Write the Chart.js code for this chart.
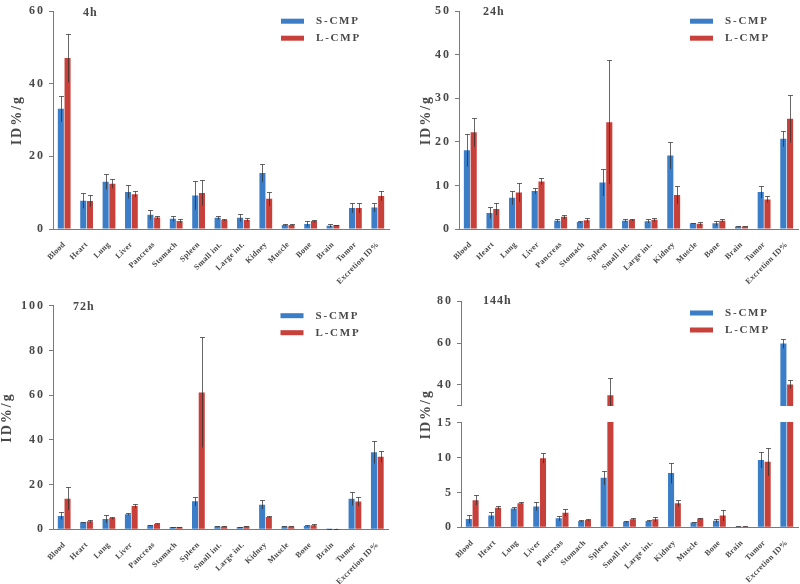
<!DOCTYPE html>
<html>
<head>
<meta charset="utf-8">
<title>Biodistribution of S-CMP and L-CMP</title>
<script src="https://cdn.jsdelivr.net/npm/chart.js@4.4.1/dist/chart.umd.min.js"></script>
<style>
  html, body { margin: 0; padding: 0; background: #fff; }
  #wrap { position: relative; width: 800px; height: 584px; overflow: hidden; }
  #wrap canvas { position: absolute; }
</style>
</head>
<body>
<div id="wrap">
  <canvas id="p4h" width="400" height="290" style="left:0;top:0"></canvas>
  <canvas id="p24h" width="400" height="290" style="left:400px;top:0"></canvas>
  <canvas id="p72h" width="400" height="294" style="left:0;top:290px"></canvas>
  <canvas id="p144h" width="400" height="294" style="left:400px;top:290px"></canvas>
</div>
<script>
const organs = ['Blood', 'Heart', 'Lung', 'Liver', 'Pancreas', 'Stomach', 'Spleen', 'Small int.',
  'Large int.', 'Kidney', 'Muscle', 'Bone', 'Brain', 'Tumor', 'Excretion ID%'];
const seriesNames = ['S-CMP', 'L-CMP'];
const timePoints = ['4h', '24h', '72h', '144h'];

// mean ID%/g and SD (error bar) per organ
const s4h     = [33.1, 7.8, 13.0, 10.2, 3.9, 2.8, 9.2, 3.1, 3.1, 15.4, 1.1, 1.4, 0.9, 5.8, 5.9];
const s4hErr  = [3.6, 2.1, 2.1, 1.8, 1.3, 0.7, 3.9, 0.5, 1.1, 2.5, 0.2, 0.7, 0.4, 1.3, 1.2];
const l4h     = [47.1, 7.7, 12.5, 9.6, 3.2, 2.2, 9.9, 2.5, 2.5, 8.3, 1.1, 2.2, 1.1, 5.8, 9.1];
const l4hErr  = [6.7, 1.6, 1.3, 0.8, 0.5, 0.5, 3.5, 0.3, 0.4, 2.0, 0.2, 0.4, 0.1, 1.4, 1.3];

const s24h    = [18.1, 3.7, 7.2, 8.7, 1.9, 1.6, 10.7, 1.9, 1.8, 16.9, 1.3, 1.3, 0.6, 8.5, 20.7];
const s24hErr = [3.8, 1.3, 1.6, 0.6, 0.4, 0.3, 3.1, 0.3, 0.4, 3.1, 0.1, 0.6, 0.1, 1.4, 1.8];
const l24h    = [22.2, 4.6, 8.4, 10.9, 2.8, 2.0, 24.5, 2.1, 2.1, 7.8, 1.2, 1.9, 0.6, 6.8, 25.3];
const l24hErr = [3.3, 1.4, 2.2, 0.7, 0.5, 0.5, 14.2, 0.3, 0.4, 2.1, 0.4, 0.3, 0.1, 0.7, 5.5];

const s72h    = [6.0, 3.1, 4.6, 6.7, 1.8, 1.0, 12.5, 1.3, 1.0, 11.0, 1.2, 1.5, 0.15, 13.7, 34.5];
const s72hErr = [1.6, 0.3, 1.7, 0.5, 0.3, 0.2, 2.1, 0.2, 0.2, 2.0, 0.1, 0.3, 0.05, 3.0, 5.1];
const l72h    = [13.7, 3.6, 5.1, 10.4, 2.4, 1.0, 61.2, 1.3, 1.2, 5.5, 1.3, 1.8, 0.3, 12.4, 32.5];
const l72hErr = [5.1, 0.7, 0.6, 0.8, 0.3, 0.2, 24.6, 0.2, 0.2, 0.3, 0.1, 0.4, 0.05, 2.1, 2.6];

const s144h    = [1.2, 1.7, 2.7, 3.0, 1.3, 0.9, 7.1, 0.8, 0.9, 7.8, 0.7, 0.95, 0.1, 9.65, 59.8];
const s144hErr = [0.6, 0.55, 0.25, 0.6, 0.35, 0.15, 1.0, 0.15, 0.1, 1.5, 0.05, 0.3, 0.03, 1.15, 2.3];
const l144h    = [3.9, 2.8, 3.45, 9.9, 2.1, 1.05, 35.0, 1.15, 1.15, 3.45, 1.25, 1.7, 0.1, 9.4, 40.2];
const l144hErr = [0.7, 0.25, 0.15, 0.7, 0.5, 0.15, 8.5, 0.15, 0.35, 0.45, 0.1, 0.8, 0.03, 2.0, 2.0];

const yTicks4h = [0, 20, 40, 60];
const yTicks24h = [0, 10, 20, 30, 40, 50];
const yTicks72h = [0, 20, 40, 60, 80, 100];
const yTicks144h = [0, 5, 10, 15, 30, 40, 60, 80];
const yLabels144h = ['0', '5', '10', '15', '', '40', '60', '80'];
const axisBreak144h = [15, 30];   // lower part stops at 15, upper part starts at 30

const blue = 'rgb(59,125,198)';
const red = 'rgb(199,64,58)';
const textGrey = '#484848';
const axisGrey = '#7a7a7a';
const serif = "'Liberation Serif', 'Times New Roman', serif";

Chart.defaults.font.family = serif;
Chart.defaults.font.weight = 'bold';
Chart.defaults.color = textGrey;

// linear axis split in two halves: [0, lo] below, [hi, max] above, a small gap between
class BrokenScale extends Chart.LinearScale {
  static id = 'broken';
  static defaults = Chart.LinearScale.defaults;
  parts() {
    const gap = 17;
    return { lo: axisBreak144h[0], hi: axisBreak144h[1], gap, seg: (this.bottom - this.top - gap) / 2 };
  }
  getPixelForValue(v) {
    const { lo, hi, gap, seg } = this.parts();
    if (v <= lo) return this.bottom - v / lo * seg;
    if (v >= hi) return this.top + (this.max - v) / (this.max - hi) * seg;
    return this.bottom - seg - (v - lo) / (hi - lo) * gap;
  }
  getValueForPixel(p) {
    const { lo, hi, gap, seg } = this.parts();
    if (p >= this.bottom - seg) return (this.bottom - p) / seg * lo;
    if (p <= this.top + seg) return this.max - (p - this.top) / seg * (this.max - hi);
    return lo + (this.bottom - seg - p) / gap * (hi - lo);
  }
}
Chart.register(BrokenScale);

// y-axis text is letter-spaced wider than the rotated organ names
const spacing = {
  id: 'spacing',
  beforeDraw(chart) { chart.ctx.letterSpacing = '2px'; },
  beforeDatasetsDraw(chart) { chart.ctx.letterSpacing = '0.3px'; }
};

const errorBars = {
  id: 'errorBars',
  afterDatasetsDraw(chart) {
    const ctx = chart.ctx, y = chart.scales.y;
    ctx.save();
    ctx.lineWidth = 1;
    ctx.strokeStyle = 'rgba(45,45,45,0.72)';
    chart.data.datasets.forEach((ds, di) => {
      chart.getDatasetMeta(di).data.forEach((bar, i) => {
        const v = ds.data[i], e = ds.errors[i];
        const x = Math.round(bar.x) + 0.5;
        const top = Math.round(y.getPixelForValue(v + e)) + 0.5;
        const bot = y.getPixelForValue(Math.max(v - e, 0));
        ctx.beginPath();
        ctx.moveTo(x, bot);
        ctx.lineTo(x, top);
        ctx.moveTo(x - 2.5, top);
        ctx.lineTo(x + 2.5, top);
        ctx.stroke();
      });
    });
    ctx.restore();
  }
};

// blank band across the broken axis (cuts the bars and the axis line)
const axisGap = {
  id: 'axisGap',
  afterDatasetsDraw(chart) {
    const y = chart.scales.y;
    if (y.type !== 'broken') return;
    const ctx = chart.ctx, a = chart.chartArea;
    const yTop = Math.round(y.getPixelForValue(axisBreak144h[1]) - 0.5) + 1;
    const yBot = Math.round(y.getPixelForValue(axisBreak144h[0]) - 0.5);
    ctx.save();
    ctx.fillStyle = '#fff';
    ctx.fillRect(a.left - 2, yTop, a.right - a.left + 4, yBot - yTop);
    ctx.restore();
  }
};

function panelLabels(title, L) {
  return {
    id: 'panelLabels',
    afterDatasetsDraw(chart) {
      const ctx = chart.ctx, a = chart.chartArea;
      ctx.save();
      ctx.textBaseline = 'middle';
      ctx.textAlign = 'left';
      ctx.fillStyle = textGrey;
      ctx.letterSpacing = '1px';
      ctx.font = `bold 12px ${serif}`;
      ctx.fillText(title, a.left + L.titleDx, a.top + L.titleDy);
      ctx.letterSpacing = '1.8px';
      ctx.font = `bold 11px ${serif}`;
      chart.data.datasets.forEach((ds, i) => {
        const yy = a.top + 10 + L.legendDy + i * 17;
        ctx.fillStyle = ds.backgroundColor;
        ctx.fillRect(a.right - 108, yy - 2.5, 23, 5);
        ctx.fillStyle = textGrey;
        ctx.fillText(ds.label, a.right - 73, yy);
      });
      ctx.restore();
    }
  };
}

function drawPanel(canvasId, title, s, sErr, l, lErr, yType, yMax, yTicks, yLabels, L) {
  new Chart(document.getElementById(canvasId), {
    type: 'bar',
    data: {
      labels: organs,
      datasets: [
        { label: seriesNames[0], data: s, errors: sErr, backgroundColor: blue,
          categoryPercentage: 0.6, barPercentage: 0.9 },
        { label: seriesNames[1], data: l, errors: lErr, backgroundColor: red,
          categoryPercentage: 0.6, barPercentage: 0.9 }
      ]
    },
    options: {
      responsive: false,
      animation: false,
      events: [],
      layout: { padding: L.pad },
      plugins: { legend: { display: false }, tooltip: { enabled: false } },
      scales: {
        x: {
          grid: { display: false },
          border: { display: true, color: axisGrey, width: 1 },
          ticks: { z: 1, autoSkip: false, minRotation: 45, maxRotation: 45, padding: 3,
            color: textGrey, font: { size: 8, weight: 'bold' } },
          afterFit: sc => { sc.height = L.xHeight; }
        },
        y: {
          type: yType,
          min: 0,
          max: yMax,
          grid: { display: true, drawOnChartArea: false, drawTicks: true, tickLength: 4, color: axisGrey },
          border: { display: true, color: axisGrey, width: 1 },
          ticks: { autoSkip: false, padding: 4, color: textGrey, font: { size: 12, weight: 'bold' },
            callback: (v, i) => yLabels ? yLabels[i] : v },
          afterBuildTicks: sc => { sc.ticks = yTicks.map(v => ({ value: v })); },
          title: { display: true, text: 'ID%/g', color: textGrey, font: { size: 14, weight: 'bold' },
            padding: { top: L.yTitlePad, bottom: 0 } },
          afterFit: sc => { sc.width = L.yWidth; }
        }
      }
    },
    plugins: [spacing, errorBars, axisGap, panelLabels(title, L)]
  });
}

drawPanel('p4h', timePoints[0], s4h, s4hErr, l4h, l4hErr, 'linear', 60, yTicks4h, null,
  { pad: { left: 0, top: 5, right: 11, bottom: 0 }, yWidth: 53, xHeight: 61, yTitlePad: 9,
    titleDx: 30, titleDy: 1.5, legendDy: 0 });
drawPanel('p24h', timePoints[1], s24h, s24hErr, l24h, l24hErr, 'linear', 50, yTicks24h, null,
  { pad: { left: 0, top: 6, right: 2, bottom: 0 }, yWidth: 59, xHeight: 61, yTitlePad: 18,
    titleDx: 24, titleDy: 1, legendDy: 0 });
drawPanel('p72h', timePoints[2], s72h, s72hErr, l72h, l72hErr, 'linear', 100, yTicks72h, null,
  { pad: { left: 0, top: 15.7, right: 11.5, bottom: 0 }, yWidth: 53, xHeight: 54.7, yTitlePad: -1.5,
    titleDx: 20, titleDy: 1.3, legendDy: 0 });
drawPanel('p144h', timePoints[3], s144h, s144hErr, l144h, l144hErr, 'broken', 80, yTicks144h, yLabels144h,
  { pad: { left: 0, top: 11.3, right: 2, bottom: 0 }, yWidth: 61, xHeight: 56.7, yTitlePad: 17.5,
    titleDx: 22, titleDy: 0, legendDy: 1.7 });
</script>
</body>
</html>
